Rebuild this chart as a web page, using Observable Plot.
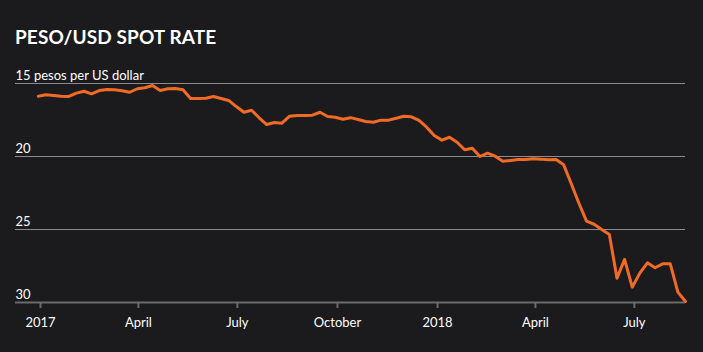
<!DOCTYPE html>
<html>
<head>
<meta charset="utf-8">
<script src="https://cdn.jsdelivr.net/npm/d3@7"></script>
<script src="https://cdn.jsdelivr.net/npm/@observablehq/plot@0.6"></script>
<style>
  html, body { margin: 0; padding: 0; background: #1b1a1d; }
  #wrap { position: relative; width: 703px; height: 352px; overflow: hidden; }
  #title { position: absolute; left: 15px; top: 27px; font-family: Lato, "Open Sans", sans-serif; font-weight: 700; font-size: 19px; line-height: 19px; color: #ffffff; letter-spacing: 0.1px; }
  #chart { position: absolute; left: 0; top: 50px; }
</style>
</head>
<body>
<div id="wrap">
  <div id="title">PESO/USD SPOT RATE</div>
  <div id="chart"></div>
</div>
<script>
const dates = [
  "2016-12-30",
  "2017-01-06","2017-01-13","2017-01-20","2017-01-27",
  "2017-02-03","2017-02-10","2017-02-17","2017-02-24",
  "2017-03-03","2017-03-10","2017-03-17","2017-03-24","2017-03-31",
  "2017-04-07","2017-04-14","2017-04-21","2017-04-28",
  "2017-05-05","2017-05-12","2017-05-19","2017-05-26",
  "2017-06-02","2017-06-09","2017-06-16","2017-06-23","2017-06-30",
  "2017-07-07","2017-07-14","2017-07-21","2017-07-28",
  "2017-08-04","2017-08-11","2017-08-18","2017-08-25",
  "2017-09-01","2017-09-08","2017-09-15","2017-09-22","2017-09-29",
  "2017-10-06","2017-10-13","2017-10-20","2017-10-27",
  "2017-11-03","2017-11-10","2017-11-17","2017-11-24",
  "2017-12-01","2017-12-08","2017-12-15","2017-12-22","2017-12-29",
  "2018-01-05","2018-01-12","2018-01-19","2018-01-26",
  "2018-02-02","2018-02-09","2018-02-16","2018-02-23",
  "2018-03-02","2018-03-09","2018-03-16","2018-03-23","2018-03-30",
  "2018-04-06","2018-04-13","2018-04-20","2018-04-27",
  "2018-05-04","2018-05-11","2018-05-18","2018-05-25",
  "2018-06-01","2018-06-08","2018-06-15","2018-06-22","2018-06-29",
  "2018-07-06","2018-07-13","2018-07-20","2018-07-27",
  "2018-08-03","2018-08-10","2018-08-17"
];
const rates = [
  15.87,
  15.77,15.82,15.87,15.89,
  15.66,15.53,15.71,15.48,
  15.41,15.43,15.50,15.60,15.36,
  15.29,15.14,15.48,15.36,
  15.34,15.43,16.03,16.03,
  16.01,15.89,16.03,16.16,16.58,
  16.97,16.83,17.35,17.81,
  17.67,17.72,17.24,17.19,
  17.19,17.17,16.97,17.26,17.31,
  17.45,17.34,17.47,17.60,
  17.65,17.51,17.51,17.38,
  17.24,17.28,17.53,17.99,18.56,
  18.88,18.68,19.02,19.54,
  19.43,20.00,19.77,19.98,
  20.32,20.27,20.21,20.21,20.16,
  20.18,20.23,20.21,20.57,
  21.87,23.20,24.43,24.64,
  25.00,25.34,28.34,27.05,28.95,
  27.99,27.28,27.62,27.35,
  27.35,29.29,29.93
];
const yTicks = [15, 20, 25, 30];
const yTickLabels = ["15 pesos per US dollar", "20", "25", "30"];
const xTicks = ["2017-01-01","2017-04-01","2017-07-01","2017-10-01","2018-01-01","2018-04-01","2018-07-01"];
const xTickLabels = ["2017","April","July","October","2018","April","July"];
const xDomain = ["2016-12-09","2018-08-17"];

const data = dates.map((d, i) => ({date: new Date(d + "T00:00:00Z"), rate: rates[i]}));
const xTickDates = xTicks.map(d => new Date(d + "T00:00:00Z"));
const xLabelMap = new Map(xTickDates.map((d, i) => [+d, xTickLabels[i]]));
const yLabelMap = new Map(yTicks.map((v, i) => [v, yTickLabels[i]]));

const chart = Plot.plot({
  width: 703,
  height: 302,
  marginLeft: 15,
  marginRight: 18,
  marginTop: 33,
  marginBottom: 50,
  style: {background: "transparent", color: "#ffffff", fontFamily: "Lato, 'Open Sans', sans-serif", fontSize: "13px"},
  x: {type: "utc", domain: xDomain.map(d => new Date(d + "T00:00:00Z"))},
  y: {domain: [15, 30], reverse: true, axis: null},
  marks: [
    Plot.ruleY(yTicks.slice(0, 3), {stroke: "#8c8c8c", strokeWidth: 1}),
    Plot.ruleY(yTicks.slice(3), {stroke: "#6b6b6b", strokeWidth: 2}),
    Plot.text(yTicks, {y: d => d, text: d => yLabelMap.get(d), frameAnchor: "left", textAnchor: "start", lineAnchor: "bottom", dy: -4, fill: "#ffffff", fontSize: 13}),
    Plot.axisX(xTickDates, {tickFormat: d => xLabelMap.get(+d), tickSize: 6, tickPadding: 9, stroke: "#6b6b6b", strokeWidth: 2, fill: "#ffffff", fontSize: 13}),
    Plot.line(data, {x: "date", y: "rate", stroke: "#f26b25", strokeWidth: 3, strokeLinejoin: "round"})
  ]
});
document.getElementById("chart").appendChild(chart);
</script>
</body>
</html>
